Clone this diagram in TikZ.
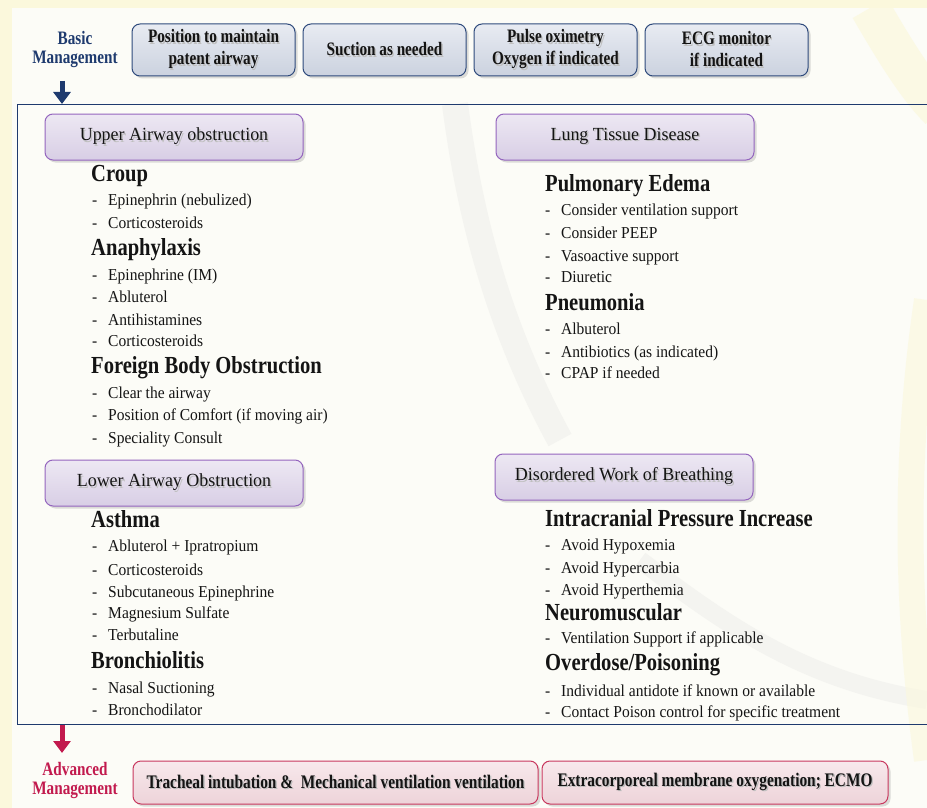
\documentclass[tikz,border=0pt]{standalone}
\usepackage{fontspec}
\setmainfont{Liberation Serif}[FakeStretch=0.93]
\newfontfamily\headfont{Liberation Serif}[FakeStretch=0.84]
\newfontfamily\boxfont{Liberation Serif}[FakeStretch=0.8]
\newfontfamily\catfont{Liberation Serif}[FakeStretch=0.97]
\usetikzlibrary{arrows.meta,shadows}

\definecolor{cream}{HTML}{FBF8DC}
\definecolor{paper}{HTML}{FCFCF7}
\definecolor{navy}{HTML}{1E3A6E}
\definecolor{crimson}{HTML}{C21A4E}
\definecolor{slateedge}{HTML}{2E4A7C}
\definecolor{slatetop}{HTML}{E8EBF2}
\definecolor{slatebot}{HTML}{CBD2DF}
\definecolor{violetedge}{HTML}{9465BE}
\definecolor{lavtop}{HTML}{EDE8F3}
\definecolor{lavbot}{HTML}{D8CEE5}
\definecolor{roseedge}{HTML}{C8385E}
\definecolor{rosetop}{HTML}{F8E9EC}
\definecolor{rosebot}{HTML}{EDD3D9}
\definecolor{ink}{HTML}{141414}
\definecolor{haze}{HTML}{F4F4F0}

% text with a soft grey drop shadow behind it
\newcommand\shadowtext[1]{\leavevmode\rlap{\kern1.4pt\raisebox{-1.4pt}{\color{black!25}#1}}#1}

\tikzset{
  softshadow/.style={drop shadow={shadow xshift=2.5pt, shadow yshift=-2.5pt, opacity=0.22, fill=black!60}},
  basicbox/.style={draw=slateedge, line width=1pt, rounded corners=8pt,
    top color=slatetop, bottom color=slatebot, minimum width=163pt, minimum height=52pt,
    align=center, text=ink, font=\boxfont\fontsize{19}{22}\selectfont\bfseries, softshadow},
  catbox/.style={draw=violetedge, line width=1pt, rounded corners=8pt,
    top color=lavtop, bottom color=lavbot, minimum width=258pt, minimum height=46pt,
    text=ink, font=\catfont\fontsize{18.5}{22}\selectfont, softshadow},
  advbox/.style={draw=roseedge, line width=1pt, rounded corners=8pt,
    top color=rosetop, bottom color=rosebot, minimum height=43pt,
    text=ink, font=\boxfont\fontsize{19.2}{22}\selectfont\bfseries, softshadow},
  steplabel/.style={align=center, font=\boxfont\fontsize{19}{19}\selectfont\bfseries},
  heading/.style={anchor=base west, inner sep=0pt, text=ink, font=\headfont\fontsize{24.5}{26}\selectfont\bfseries},
  entry/.style={anchor=base west, inner sep=0pt, text=ink, font=\fontsize{16.7}{20}\selectfont},
  navyarrow/.style={draw=navy, line width=5pt, -{Triangle[width=17pt,length=12pt]}},
  crimarrow/.style={draw=crimson, line width=5pt, -{Triangle[width=17pt,length=12pt]}},
}
% one list line: dash, then the text
\newcommand\listline[4]{\node[entry] (#1) at (#2,#3) {\makebox[16pt][l]{-}#4};}

\begin{document}
\begin{tikzpicture}[x=1pt,y=-1pt]
\useasboundingbox (0,0) rectangle (927,808);

% page background and faint watermark sweeps
\fill[cream] (0,0) rectangle (927,808);
\fill[paper] (12,8) rectangle (927,808);
\draw[haze, line width=26pt] (455,104) .. controls (470,220) and (500,330) .. (560,440);
\draw[haze, line width=18pt] (640,560) .. controls (720,620) and (800,680) .. (927,700);
\draw[cream, line width=40pt, opacity=0.7] (870,8) .. controls (900,60) and (920,90) .. (940,110);
\draw[cream, line width=26pt, opacity=0.6] (927,300) .. controls (905,450) and (905,600) .. (927,760);

% basic management row
\node[steplabel, text=navy] (basic) at (75,49.5) {Basic\\Management};
\node[basicbox] (pos)  at (213.5,50) {\shadowtext{Position to maintain}\\\shadowtext{patent airway}};
\node[basicbox] (suc)  at (384.5,50) {\shadowtext{Suction as needed}};
\node[basicbox] (pulse) at (555.5,50) {\shadowtext{Pulse oximetry}\\\shadowtext{Oxygen if indicated}};
\node[basicbox] (ecg)  at (726.5,50) {\shadowtext{ECG monitor}\\\shadowtext{if indicated}};

% main frame
\node[draw=navy, line width=1.2pt, fill=none, minimum width=930pt, minimum height=620pt,
      anchor=north west, inner sep=0pt] (frame) at (17,104) {};
\coordinate (basictail) at (62,81);
\draw[navyarrow] (basictail) -- (basictail |- frame.north);

% category headers
\node[catbox] (upper) at (174,137) {\shadowtext{Upper Airway obstruction}};
\node[catbox] (lung)  at (625,137) {\shadowtext{Lung Tissue Disease}};
\node[catbox] (lower) at (174,483) {\shadowtext{Lower Airway Obstruction}};
\node[catbox] (work)  at (624,477) {\shadowtext{Disordered Work of Breathing}};

% upper airway obstruction
\node[heading] (croup) at (91,181) {Croup};
\listline{cr1}{92}{205}{Epinephrin (nebulized)}
\listline{cr2}{92}{228}{Corticosteroids}
\node[heading] (ana) at (91,255) {Anaphylaxis};
\listline{an1}{92}{280}{Epinephrine (IM)}
\listline{an2}{92}{302}{Abluterol}
\listline{an3}{92}{325}{Antihistamines}
\listline{an4}{92}{346}{Corticosteroids}
\node[heading] (fbo) at (91,373) {Foreign Body Obstruction};
\listline{fb1}{92}{398}{Clear the airway}
\listline{fb2}{92}{420}{Position of Comfort (if moving air)}
\listline{fb3}{92}{443}{Speciality Consult}

% lower airway obstruction
\node[heading] (asth) at (91,527) {Asthma};
\listline{as1}{92}{551}{Abluterol + Ipratropium}
\listline{as2}{92}{575}{Corticosteroids}
\listline{as3}{92}{597}{Subcutaneous Epinephrine}
\listline{as4}{92}{618}{Magnesium Sulfate}
\listline{as5}{92}{640}{Terbutaline}
\node[heading] (bron) at (91,668) {Bronchiolitis};
\listline{br1}{92}{693}{Nasal Suctioning}
\listline{br2}{92}{715}{Bronchodilator}

% lung tissue disease
\node[heading] (pe) at (545,191) {Pulmonary Edema};
\listline{pe1}{545}{215}{Consider ventilation support}
\listline{pe2}{545}{238}{Consider PEEP}
\listline{pe3}{545}{261}{Vasoactive support}
\listline{pe4}{545}{282}{Diuretic}
\node[heading] (pn) at (545,310) {Pneumonia};
\listline{pn1}{545}{334}{Albuterol}
\listline{pn2}{545}{357}{Antibiotics (as indicated)}
\listline{pn3}{545}{378}{CPAP if needed}

% disordered work of breathing
\node[heading] (icp) at (545,526) {Intracranial Pressure Increase};
\listline{ic1}{545}{550}{Avoid Hypoxemia}
\listline{ic2}{545}{573}{Avoid Hypercarbia}
\listline{ic3}{545}{595}{Avoid Hyperthemia}
\node[heading] (nm) at (545,620) {Neuromuscular};
\listline{nm1}{545}{643}{Ventilation Support if applicable}
\node[heading] (od) at (545,670) {Overdose/Poisoning};
\listline{od1}{545}{696}{Individual antidote if known or available}
\listline{od2}{545}{717}{Contact Poison control for specific treatment}

% advanced management row
\coordinate (advtip) at (62,753);
\draw[crimarrow] (advtip |- frame.south) -- (advtip);
\node[steplabel, text=crimson] (adv) at (75,780) {Advanced\\Management};
\node[advbox, minimum width=405pt] (intub) at (335.5,782.5) {\shadowtext{Tracheal intubation \&\ \ Mechanical ventilation ventilation}};
\node[advbox, minimum width=346pt] (ecmo) at (715,782.5) {\shadowtext{Extracorporeal membrane oxygenation; ECMO}};
\end{tikzpicture}
\end{document}
